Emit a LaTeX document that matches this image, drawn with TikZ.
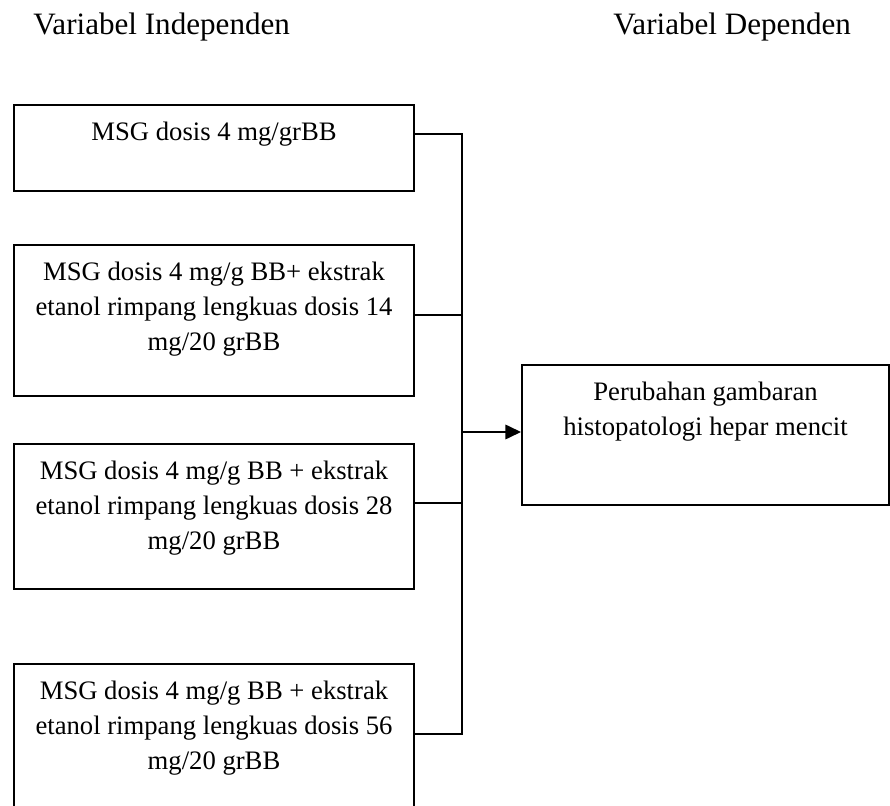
\documentclass[tikz,border=0pt]{standalone}
\usepackage{fontspec}
\setmainfont{Liberation Serif}
\usetikzlibrary{arrows.meta}

% text block hanging from the top of a box: width, height, lines
\newcommand{\boxlines}[3]{\parbox[t][#2][t]{#1}{\centering\rule{0pt}{16.1pt}#3}}

\begin{document}
\begin{tikzpicture}[
                x=0.45pt, y=-0.45pt,
                varbox/.style={
                    draw,
                    line width=0.9pt,
                    rectangle,
                    inner sep=0pt,
                    anchor=north west,
                    font=\fontsize{12}{15.75}\selectfont
                },
                header/.style={
                    anchor=base west,
                    inner sep=0pt,
                    font=\fontsize{14}{16}\selectfont
                },
                conn/.style={
                    line width=0.9pt
                },
                arrow/.style={
                    conn,
                    -{Triangle[length=7pt,width=6.5pt]}
                }
            ]
                \useasboundingbox (0,0) rectangle (890,806);

                \node[header] (indep) at (33,35)  {Variabel Independen};
                \node[header] (dep)   at (613,35) {Variabel Dependen};

                \node[varbox] (msg)       at (13,104) {\boxlines{180pt}{38.7pt}{MSG dosis 4 mg/grBB}};
                \node[varbox] (ekstrak14) at (13,244) {\boxlines{180pt}{67.95pt}{MSG dosis 4 mg/g BB+ ekstrak\\etanol rimpang lengkuas dosis 14\\mg/20 grBB}};
                \node[varbox] (ekstrak28) at (13,443) {\boxlines{180pt}{65.25pt}{MSG dosis 4 mg/g BB + ekstrak\\etanol rimpang lengkuas dosis 28\\mg/20 grBB}};
                \node[varbox] (ekstrak56) at (13,663) {\boxlines{180pt}{67.05pt}{MSG dosis 4 mg/g BB + ekstrak\\etanol rimpang lengkuas dosis 56\\mg/20 grBB}};
                \node[varbox] (hepar)     at (521,364) {\boxlines{165.15pt}{63pt}{Perubahan gambaran\\histopatologi hepar mencit}};

                \coordinate (bus1) at (462,134);
                \coordinate (bus2) at (462,315);
                \coordinate (bus3) at (462,503);
                \coordinate (bus4) at (462,734);
                \coordinate (busmid) at (462,432);

                \draw[conn] (msg.east |- bus1) -- (bus1) -- (bus4) -- (ekstrak56.east |- bus4);
                \draw[conn] (ekstrak14.east |- bus2) -- (bus2);
                \draw[conn] (ekstrak28.east |- bus3) -- (bus3);
                \draw[arrow] (busmid) -- (hepar.west |- busmid);
        \end{tikzpicture}
\end{document}
